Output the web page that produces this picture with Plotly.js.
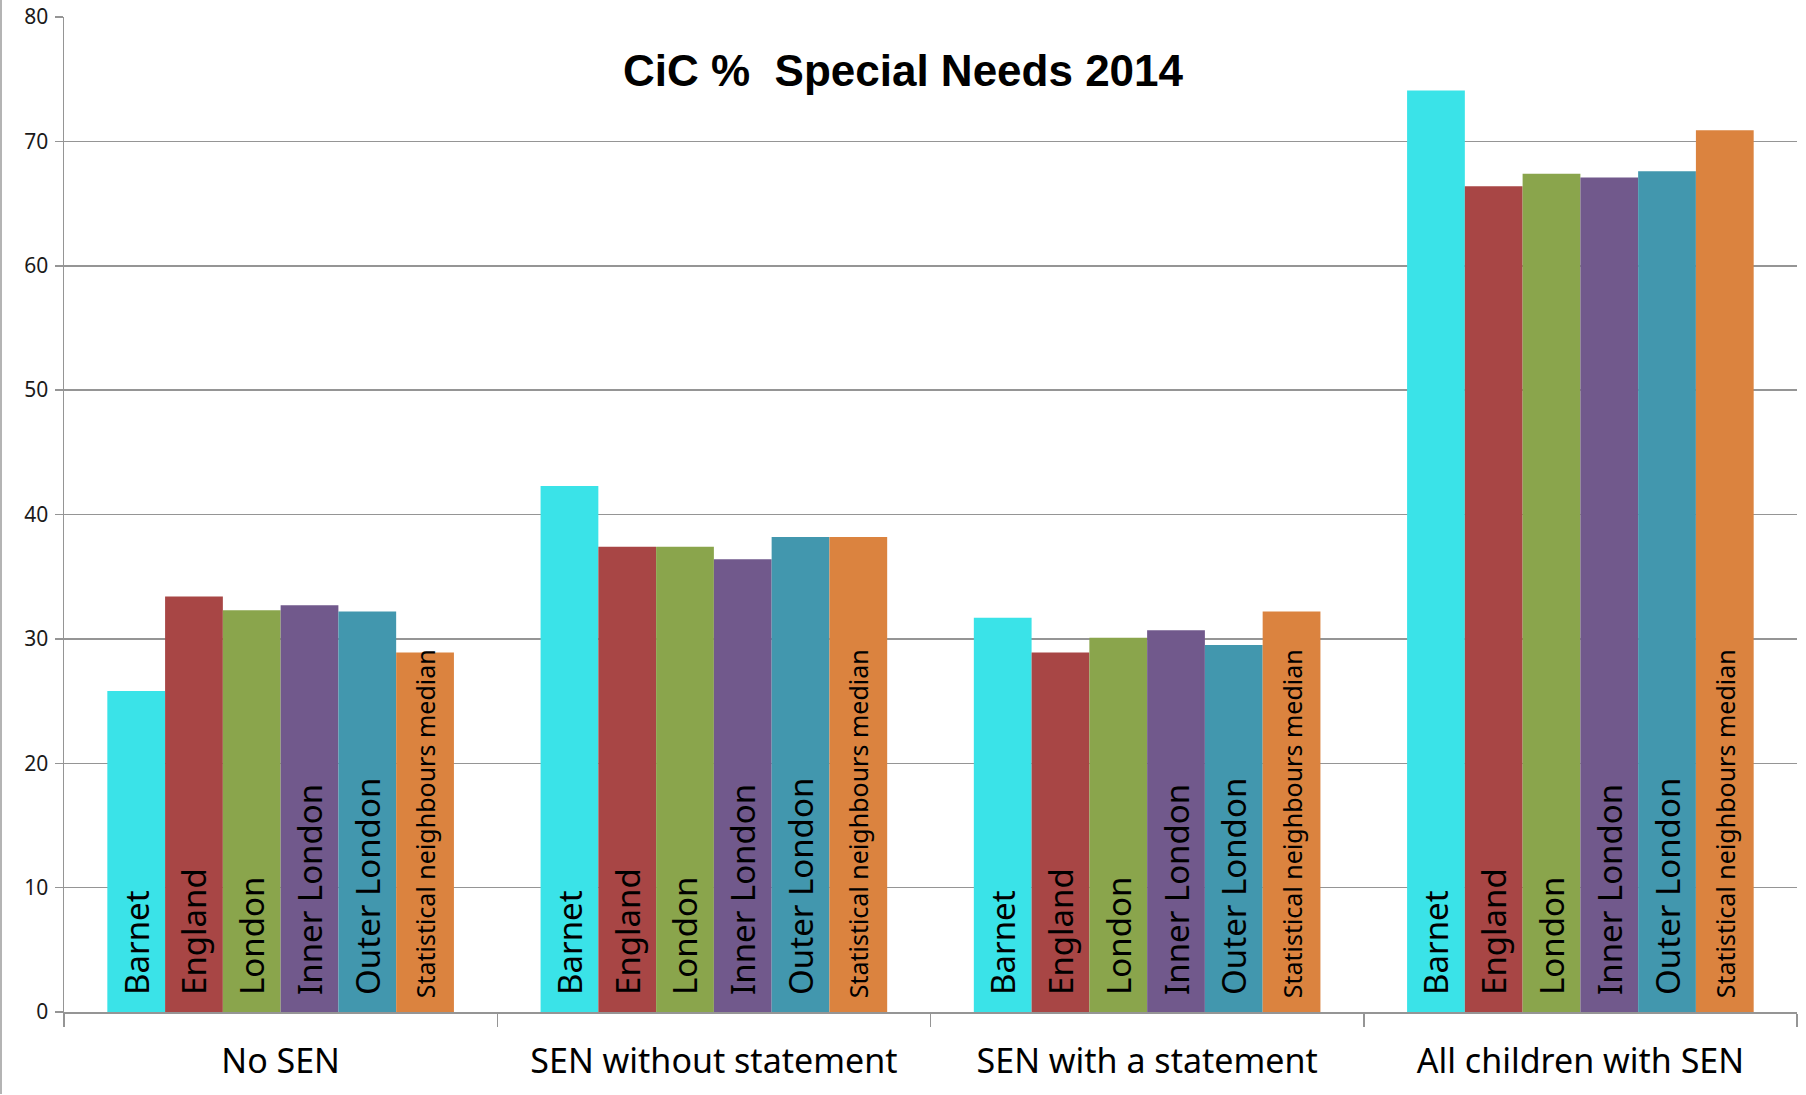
<!DOCTYPE html>
<html>
<head>
<meta charset="utf-8">
<script src="https://cdn.plot.ly/plotly-3.0.1.min.js"></script>
<style>html,body{margin:0;padding:0;background:#fff;}#chart{width:1806px;height:1095px;}</style>
</head>
<body>
<div id="chart"></div>
<script>
// Categories (x axis)
const categories = ['No SEN', 'SEN without statement', 'SEN with a statement', 'All children with SEN'];
// Series names
const seriesNames = ['Barnet', 'England', 'London', 'Inner London', 'Outer London', 'Statistical neighbours median'];
// Series values (%)
const barnet  = [25.8, 42.3, 31.7, 74.1];
const england = [33.4, 37.4, 28.9, 66.4];
const london  = [32.3, 37.4, 30.1, 67.4];
const inner   = [32.7, 36.4, 30.7, 67.1];
const outer   = [32.2, 38.2, 29.5, 67.6];
const stat    = [28.9, 38.2, 32.2, 70.9];
// Y tick values
const yTicks = [0, 10, 20, 30, 40, 50, 60, 70, 80];

const seriesValues = [barnet, england, london, inner, outer, stat];
const colors = ['#3AE3E8', '#A84645', '#8AA54C', '#71598C', '#4297AE', '#DB833F'];
const textSizes = [33, 33, 33, 33, 33, 25];

const traces = seriesNames.map((name, i) => ({
  type: 'bar',
  name: name,
  x: categories,
  y: seriesValues[i],
  text: categories.map(() => '\u00a0\u2009' + name),
  textposition: 'inside',
  insidetextanchor: 'start',
  textangle: -90,
  constraintext: 'none',
  insidetextfont: {family: 'Noto Sans', size: textSizes[i], color: '#000000'},
  marker: {color: colors[i], line: {width: 0}},
  hoverinfo: 'none',
  cliponaxis: false
}));

const gridGray = '#959595';
const layout = {
  width: 1806,
  height: 1095,
  margin: {l: 64, r: 9, t: 17, b: 83, pad: 0},
  paper_bgcolor: '#ffffff',
  plot_bgcolor: '#ffffff',
  showlegend: false,
  barmode: 'group',
  bargap: 0.2,
  bargroupgap: 0,
  title: {
    text: 'CiC %  Special Needs 2014',
    font: {family: 'Liberation Sans', size: 44, color: '#000000', weight: 'bold'},
    x: 0.5, xref: 'container', xanchor: 'center',
    y: 1 - 71 / 1095, yref: 'container', yanchor: 'middle'
  },
  xaxis: {
    type: 'category',
    showgrid: false,
    showline: true,
    linecolor: gridGray,
    linewidth: 1.5,
    ticks: 'outside',
    tickson: 'boundaries',
    ticklen: 13,
    tickwidth: 1.5,
    tickcolor: gridGray,
    tickfont: {family: 'Noto Sans', size: 34, color: '#000000'},
    ticklabelstandoff: 19,
    fixedrange: true
  },
  yaxis: {
    range: [0, 80],
    tickvals: yTicks,
    ticktext: yTicks.map(String),
    showgrid: true,
    gridcolor: gridGray,
    gridwidth: 1.5,
    zeroline: false,
    showline: true,
    linecolor: gridGray,
    linewidth: 1.5,
    ticks: 'outside',
    ticklen: 8,
    tickwidth: 1.5,
    tickcolor: gridGray,
    tickfont: {family: 'Noto Sans', size: 21, color: '#1a1a1a'},
    ticklabelstandoff: 2,
    fixedrange: true
  },
  shapes: [
    {type: 'line', xref: 'paper', yref: 'paper',
     x0: -63 / 1733, x1: -63 / 1733, y0: -82 / 995, y1: 1 + 17 / 995,
     line: {color: '#b4b4b4', width: 2}}
  ]
};

Plotly.newPlot('chart', traces, layout, {displayModeBar: false, staticPlot: true});
</script>
</body>
</html>
